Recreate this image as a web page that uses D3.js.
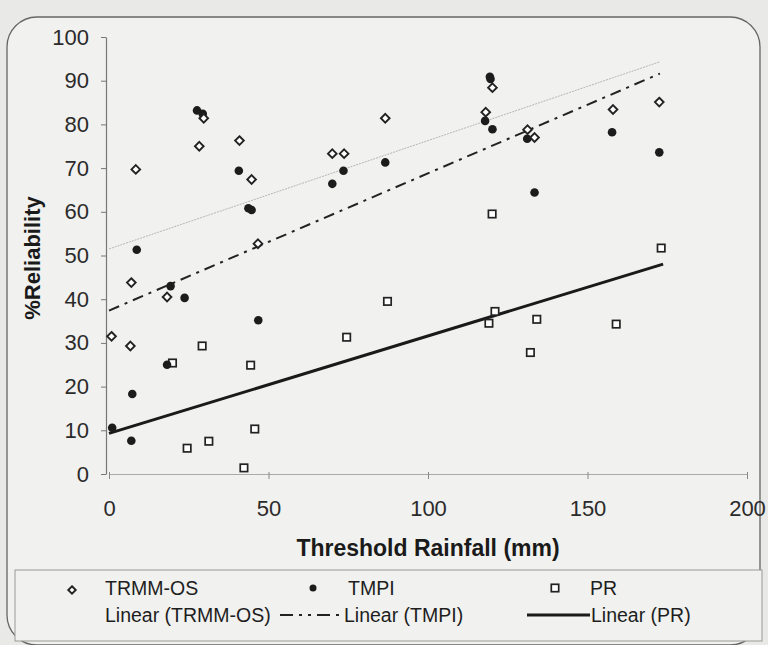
<!DOCTYPE html>
<html><head><meta charset="utf-8">
<script src="https://cdn.jsdelivr.net/npm/d3@7"></script>
<style>
html,body{margin:0;padding:0;background:#e9e9e7;}
svg{display:block;}
</style></head>
<body>
<svg id="chart" width="768" height="645"></svg>
<script>
// ---- data ----
const trmmX = [0.8, 6.7, 7.0, 8.4, 18.2, 28.3, 29.7, 40.9, 44.7, 46.7, 70.0, 73.7, 86.6, 118.1, 120.2, 131.2, 133.4, 158.0, 172.5];
const trmmY = [31.5, 29.3, 43.8, 69.7, 40.5, 75.0, 81.4, 76.3, 67.4, 52.7, 73.3, 73.3, 81.4, 82.8, 88.4, 78.8, 77.0, 83.4, 85.1];
const tmpiX = [1.0, 7.0, 7.3, 8.7, 19.3, 23.7, 18.2, 27.6, 29.4, 40.7, 43.7, 44.7, 46.8, 70.0, 73.5, 86.6, 117.9, 119.4, 119.6, 120.2, 131.1, 133.4, 157.7, 172.5];
const tmpiY = [10.6, 7.6, 18.3, 51.3, 43.0, 40.3, 25.0, 83.2, 82.4, 69.4, 60.8, 60.4, 35.2, 66.4, 69.4, 71.3, 80.8, 90.9, 90.4, 78.9, 76.7, 64.4, 78.2, 73.6];
const prX = [19.9, 24.5, 29.2, 31.3, 42.3, 44.4, 45.7, 74.5, 87.3, 119.1, 120.1, 121.0, 132.1, 134.1, 159.0, 173.1];
const prY = [25.4, 5.9, 29.3, 7.5, 1.4, 24.9, 10.3, 31.3, 39.5, 34.5, 59.5, 37.2, 27.8, 35.4, 34.3, 51.7];
// linear trend lines as shown: [intercept, slope, xEnd]
const trendTRMM = [51.5, 0.248, 172.5];
const trendTMPI = [37.4, 0.314, 172.7];
const trendPR = [9.3, 0.223, 173.7];
const xTicks = [0, 50, 100, 150, 200];
const yTicks = [0, 10, 20, 30, 40, 50, 60, 70, 80, 90, 100];
const seriesNames = ["TRMM-OS", "TMPI", "PR"];
const trendNames = ["Linear (TRMM-OS)", "Linear (TMPI)", "Linear (PR)"];

// ---- drawing ----
const svg = d3.select("#chart");
const font = "'Liberation Sans', Arial, sans-serif";

// frame
svg.append("rect").attr("x", 7).attr("y", 17).attr("width", 753).attr("height", 628)
  .attr("fill", "#f1f1ef").attr("rx", 30).attr("stroke", "#666").attr("stroke-width", 1.3);

const x = d3.scaleLinear().domain([0, 200]).range([109, 747]);
const y = d3.scaleLinear().domain([0, 100]).range([474, 37]);

// y axis
const yAxis = svg.append("g").attr("transform", `translate(${x(0) - 3},0)`)
  .call(d3.axisLeft(y).tickValues(yTicks).tickSize(5).tickPadding(12).tickSizeOuter(0));
yAxis.select(".domain").attr("stroke", "#777").attr("stroke-width", 1.2);
yAxis.selectAll(".tick line").attr("stroke", "#777");
yAxis.selectAll(".tick text").attr("font-family", font).attr("font-size", 22).attr("fill", "#2b2b2b");

// x axis
const xAxis = svg.append("g").attr("transform", `translate(0,${y(0)})`)
  .call(d3.axisBottom(x).tickValues(xTicks).tickSize(5).tickPadding(21).tickSizeOuter(0));
xAxis.select(".domain").attr("stroke", "#aaa").attr("stroke-width", 1);
xAxis.selectAll(".tick line").attr("stroke", "#888").attr("y1", -2);
xAxis.selectAll(".tick text").attr("font-family", font).attr("font-size", 22).attr("fill", "#2b2b2b");

// titles
svg.append("text").attr("x", 428).attr("y", 556).attr("text-anchor", "middle")
  .attr("font-family", font).attr("font-size", 23).attr("font-weight", "bold").attr("fill", "#1a1a1a")
  .text("Threshold Rainfall (mm)");
svg.append("text").attr("transform", "translate(40,258) rotate(-90)").attr("text-anchor", "middle")
  .attr("font-family", font).attr("font-size", 22).attr("font-weight", "bold").attr("fill", "#1a1a1a")
  .text("%Reliability");

// trend lines
function trendLine(t, style) {
  const pts = [[0, t[0]], [t[2], t[0] + t[1] * t[2]]];
  const p = svg.append("line")
    .attr("x1", x(pts[0][0])).attr("y1", y(pts[0][1]))
    .attr("x2", x(pts[1][0])).attr("y2", y(pts[1][1]));
  style(p);
}
trendLine(trendTRMM, p => p.attr("stroke", "#b5b5b5").attr("stroke-width", 1).attr("stroke-dasharray", "2,1"));
trendLine(trendTMPI, p => p.attr("stroke", "#222").attr("stroke-width", 2).attr("stroke-dasharray", "11,6,3,6"));
trendLine(trendPR, p => p.attr("stroke", "#1a1a1a").attr("stroke-width", 3));

// markers
const diamond = d3.symbol().type(d3.symbolDiamond2).size(48);
function drawDiamond(g, cx, cy, s) {
  g.append("path").attr("d", d3.symbol().type(d3.symbolDiamond2).size(s || 48)()).attr("transform", `translate(${cx},${cy})`)
    .attr("fill", "#fff").attr("stroke", "#222").attr("stroke-width", 1.9);
}
function drawDot(g, cx, cy, r) {
  g.append("circle").attr("cx", cx).attr("cy", cy).attr("r", r || 4.3).attr("fill", "#1c1c1c");
}
function drawSquare(g, cx, cy) {
  g.append("rect").attr("x", cx - 3.7).attr("y", cy - 3.7).attr("width", 7.4).attr("height", 7.4)
    .attr("fill", "#fff").attr("stroke", "#222").attr("stroke-width", 1.7);
}
const gPts = svg.append("g");
prX.forEach((v, i) => drawSquare(gPts, x(v), y(prY[i])));
tmpiX.forEach((v, i) => drawDot(gPts, x(v), y(tmpiY[i])));
trmmX.forEach((v, i) => drawDiamond(gPts, x(v), y(trmmY[i])));

// legend
const lg = svg.append("g");
lg.append("rect").attr("x", 15).attr("y", 570).attr("width", 747).attr("height", 71)
  .attr("fill", "#f1f1ef").attr("stroke", "#999").attr("stroke-width", 1);
const lf = 19.5;
const row1 = 595, row2 = 622;
drawDiamond(lg, 72, 590, 36);
drawDot(lg, 313, 588, 3.5);
drawSquare(lg, 555, 588);
[105, 348, 590].forEach((px, i) => {
  lg.append("text").attr("x", px).attr("y", row1).attr("font-family", font).attr("font-size", lf)
    .attr("fill", "#1e1e1e").text(seriesNames[i]);
});
lg.append("line").attr("x1", 280).attr("x2", 342).attr("y1", 615).attr("y2", 615)
  .attr("stroke", "#222").attr("stroke-width", 2).attr("stroke-dasharray", "13,6,3,6,3,6");
lg.append("line").attr("x1", 527).attr("x2", 590).attr("y1", 615).attr("y2", 615)
  .attr("stroke", "#1a1a1a").attr("stroke-width", 3);
[105, 344, 591].forEach((px, i) => {
  lg.append("text").attr("x", px).attr("y", row2).attr("font-family", font).attr("font-size", lf)
    .attr("fill", "#1e1e1e").text(trendNames[i]);
});
</script>
</body></html>
